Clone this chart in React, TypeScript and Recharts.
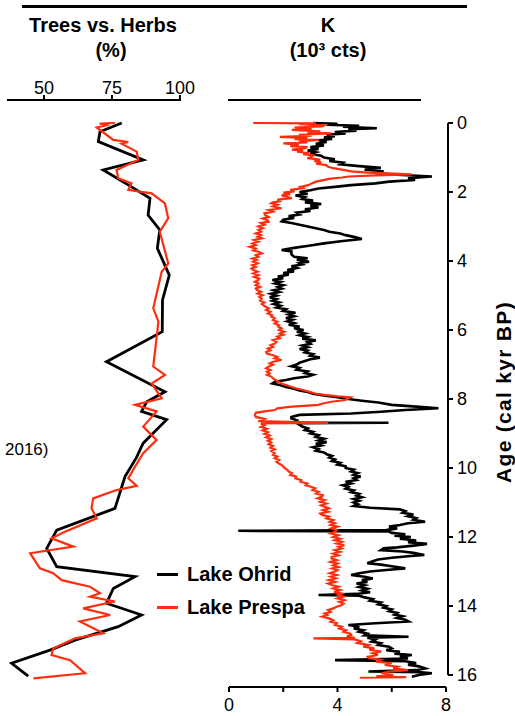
import React from "react";
import { Legend, Scatter, ScatterChart, XAxis, YAxis } from "recharts";

const W = 515;
const H = 716;
const FONT = '"Liberation Sans", Arial, Helvetica, sans-serif';
const RED = "#ff2d0d";
const BLACK = "#000";

// age axis (cal kyr BP), shared by both panels; plot area runs from y=100 to y=687
const AGE_DOMAIN: [number, number] = [-0.667, 16.348];
const AGE_TICKS = [0, 2, 4, 6, 8, 10, 12, 14, 16];

// Trees vs. Herbs (%) - [age, percent]
const treesOhrid: [number, number][] = [
  [0, 78.6], [0.25, 70.6], [0.54, 70.0], [1.07, 86.5], [1.36, 71.8], [1.85, 82.2],
  [2.18, 89.0], [2.67, 88.3], [3.1, 92.6], [3.63, 91.7], [4.41, 96.1], [5.13, 93.6],
  [6.05, 93.5], [6.92, 73.0], [7.79, 94.5], [8.08, 87.8], [8.36, 85.9], [8.6, 95.1],
  [9.28, 86.5], [9.7, 84.0], [10.25, 79.8], [11.17, 76.1], [11.8, 54.7], [12.33, 51.0],
  [12.86, 54.7], [13.15, 83.5], [13.49, 75.5], [13.92, 73.0], [14.26, 85.9], [14.6, 77.3],
  [14.99, 61.4], [15.28, 52.2], [15.66, 38.1], [16.03, 44.2],
];

const treesPrespa: [number, number][] = [
  [0, 76.1], [0.02, 70.5], [0.05, 74.0], [0.13, 69.4], [0.49, 75.5], [0.55, 81.0],
  [0.6, 78.5], [0.83, 84.1], [1.07, 84.7], [1.36, 76.7], [1.6, 77.3], [1.75, 82.2],
  [1.94, 81.0], [2.04, 89.6], [2.33, 94.5], [2.76, 95.7], [3.15, 92.6], [4.07, 95.7],
  [4.31, 93.3], [5.37, 90.2], [5.76, 92.1], [7.06, 90.2], [7.3, 94.5], [7.55, 89.6],
  [7.98, 93.3], [8.17, 83.5], [8.36, 91.4], [8.8, 86.5], [9.19, 91.4], [9.57, 86.5],
  [9.96, 83.5], [10.3, 81.0], [10.52, 84.1], [10.64, 76.7], [10.88, 68.1], [11.17, 67.5],
  [11.46, 69.4], [11.85, 57.7], [12.04, 52.8], [12.28, 60.8], [12.47, 44.9], [12.91, 48.5],
  [13.05, 53.4], [13.25, 56.5], [13.44, 66.9], [13.63, 70.6], [13.73, 66.9], [13.87, 76.1],
  [14.07, 64.4], [14.26, 74.3], [14.45, 63.2], [14.79, 71.8], [14.94, 61.4], [15.23, 53.4],
  [15.42, 52.8], [15.57, 59.6], [15.95, 65.1], [16.1, 46.1],
];

// K, Lake Ohrid (bottom axis, 0-8) - [age, value]
const kOhrid: [number, number][] = [
  [0, 3.1], [0.02, 4.0], [0.05, 3.6], [0.08, 4.8], [0.11, 4.2], [0.15, 5.45], [0.18, 4.4],
  [0.22, 4.7], [0.26, 3.9], [0.3, 4.3], [0.34, 3.6], [0.38, 3.9], [0.42, 3.5], [0.46, 3.8],
  [0.5, 3.3], [0.55, 3.6], [0.6, 3.2], [0.65, 3.5], [0.7, 3.0], [0.75, 3.3], [0.8, 2.9],
  [0.85, 3.2], [0.9, 3.0], [0.95, 3.4], [1.0, 3.5], [1.05, 3.9], [1.1, 3.7], [1.15, 4.2],
  [1.2, 4.1], [1.25, 4.8], [1.3, 5.6], [1.35, 5.0], [1.4, 5.7], [1.45, 5.4], [1.5, 6.2],
  [1.55, 7.48], [1.6, 6.6], [1.65, 6.86], [1.7, 5.9], [1.75, 5.4], [1.8, 4.5], [1.85, 3.9],
  [1.9, 3.3], [1.95, 3.0], [2.0, 2.6], [2.05, 2.9], [2.1, 2.45], [2.15, 2.8], [2.2, 2.7],
  [2.25, 3.1], [2.3, 2.8], [2.35, 3.4], [2.4, 3.0], [2.45, 3.3], [2.5, 2.8], [2.55, 3.0],
  [2.6, 2.5], [2.65, 2.6], [2.7, 2.2], [2.75, 2.4], [2.8, 2.0], [2.85, 1.94], [2.9, 2.3],
  [2.95, 2.6], [3.0, 2.9], [3.05, 3.2], [3.1, 3.5], [3.15, 3.7], [3.2, 4.1], [3.25, 4.3],
  [3.3, 4.6], [3.36, 4.9], [3.42, 4.2], [3.49, 3.5], [3.55, 3.0], [3.62, 2.4], [3.68, 1.94],
  [3.72, 2.3], [3.8, 2.3], [3.88, 2.4], [3.92, 2.9], [3.96, 2.5], [4.02, 2.95], [4.06, 2.6],
  [4.1, 2.7], [4.15, 2.3], [4.2, 2.5], [4.26, 2.15], [4.3, 2.4], [4.35, 2.0], [4.4, 2.2],
  [4.45, 1.8], [4.5, 2.0], [4.55, 1.6], [4.6, 1.9], [4.65, 1.7], [4.7, 2.0], [4.75, 1.8],
  [4.8, 1.95], [4.85, 1.65], [4.9, 1.85], [4.95, 1.55], [5.0, 1.75], [5.05, 1.5], [5.1, 1.75],
  [5.15, 1.6], [5.2, 1.85], [5.25, 1.65], [5.3, 1.9], [5.35, 1.75], [5.4, 2.1], [5.45, 2.0],
  [5.5, 2.45], [5.55, 2.2], [5.6, 2.4], [5.65, 2.1], [5.7, 2.35], [5.75, 2.15], [5.8, 2.4],
  [5.85, 2.2], [5.9, 2.6], [5.95, 2.4], [6.0, 2.75], [6.05, 2.5], [6.1, 2.8], [6.15, 2.6],
  [6.2, 2.9], [6.25, 2.7], [6.3, 3.2], [6.35, 2.9], [6.4, 3.0], [6.45, 2.7], [6.5, 2.9],
  [6.55, 2.6], [6.6, 2.9], [6.65, 2.8], [6.7, 3.1], [6.75, 3.0], [6.8, 3.35], [6.85, 3.0],
  [6.9, 2.8], [6.95, 2.6], [7.0, 2.5], [7.05, 2.3], [7.1, 2.6], [7.15, 2.5], [7.2, 2.9],
  [7.25, 2.8], [7.3, 3.1], [7.35, 2.9], [7.4, 2.4], [7.45, 2.1], [7.5, 1.7], [7.55, 1.6],
  [7.6, 1.9], [7.65, 2.1], [7.7, 2.4], [7.75, 2.6], [7.8, 2.9], [7.85, 3.1], [7.9, 3.5],
  [7.95, 4.0], [8.0, 4.4], [8.05, 4.9], [8.1, 5.5], [8.17, 6.0], [8.22, 6.9], [8.27, 7.72],
  [8.32, 6.5], [8.37, 5.6], [8.42, 4.5], [8.46, 2.6], [8.52, 2.3], [8.56, 2.3], [8.62, 2.5],
  [8.68, 2.4], [8.69, 5.88], [8.7, 2.5], [8.75, 2.6], [8.8, 2.7], [8.85, 2.9], [8.9, 2.8],
  [8.95, 3.1], [9.0, 3.0], [9.05, 3.3], [9.1, 3.2], [9.15, 3.5], [9.2, 3.3], [9.25, 3.6],
  [9.3, 3.2], [9.35, 3.4], [9.4, 3.1], [9.45, 3.3], [9.5, 3.2], [9.55, 3.5], [9.6, 3.6],
  [9.65, 3.8], [9.7, 3.7], [9.75, 3.9], [9.8, 3.8], [9.85, 4.1], [9.9, 4.0], [9.95, 4.3],
  [10.0, 4.3], [10.05, 4.6], [10.1, 4.5], [10.15, 4.75], [10.2, 4.6], [10.25, 4.85],
  [10.3, 4.6], [10.35, 4.7], [10.4, 4.3], [10.45, 4.5], [10.5, 4.2], [10.55, 4.4],
  [10.6, 4.3], [10.65, 4.6], [10.7, 4.5], [10.75, 4.8], [10.8, 4.7], [10.85, 4.9],
  [10.9, 4.6], [10.95, 4.8], [11.0, 4.6], [11.05, 4.75], [11.1, 4.6], [11.15, 5.2],
  [11.2, 6.3], [11.25, 6.5], [11.3, 6.4], [11.35, 6.8], [11.4, 6.6], [11.45, 6.9],
  [11.5, 6.8], [11.56, 7.23], [11.6, 6.6], [11.65, 6.3], [11.7, 5.9], [11.75, 6.2],
  [11.8, 5.8], [11.82, 0.34], [11.84, 5.9], [11.88, 6.0], [11.92, 6.5], [11.96, 6.1],
  [12.0, 6.7], [12.05, 6.3], [12.1, 6.9], [12.15, 6.6], [12.2, 7.3], [12.25, 6.8],
  [12.3, 6.2], [12.33, 5.7], [12.38, 5.6], [12.42, 6.4], [12.46, 6.8], [12.52, 7.2],
  [12.56, 6.6], [12.6, 6.0], [12.65, 5.5], [12.7, 5.3], [12.76, 5.1], [12.8, 5.6],
  [12.85, 6.0], [12.91, 6.5], [12.95, 5.9], [13.0, 5.2], [13.05, 4.8], [13.1, 4.5],
  [13.15, 5.0], [13.2, 5.3], [13.25, 4.9], [13.3, 5.1], [13.35, 4.7], [13.4, 5.0],
  [13.45, 4.8], [13.5, 5.1], [13.55, 4.9], [13.6, 5.2], [13.65, 4.7], [13.68, 3.3],
  [13.7, 4.8], [13.75, 5.0], [13.8, 5.3], [13.85, 5.2], [13.9, 5.6], [13.95, 5.5],
  [14.0, 5.8], [14.05, 5.7], [14.1, 6.0], [14.15, 5.9], [14.2, 6.2], [14.25, 6.1],
  [14.3, 6.4], [14.35, 6.2], [14.4, 6.5], [14.45, 6.62], [14.5, 5.4], [14.55, 4.4],
  [14.6, 4.8], [14.65, 4.6], [14.7, 4.95], [14.75, 4.8], [14.8, 5.1], [14.85, 5.0],
  [14.89, 6.62], [14.92, 5.1], [14.97, 5.4], [15.03, 5.26], [15.08, 5.6], [15.13, 5.5],
  [15.18, 5.9], [15.23, 6.0], [15.28, 5.8], [15.33, 6.3], [15.38, 6.1], [15.42, 6.74],
  [15.47, 6.3], [15.52, 6.6], [15.57, 3.91], [15.6, 6.5], [15.65, 6.9], [15.7, 6.6],
  [15.75, 7.0], [15.81, 7.23], [15.86, 6.9], [15.9, 5.14], [15.92, 7.1], [15.95, 7.48],
  [16.0, 7.0], [16.05, 6.74],
];

// K, Lake Prespa (top axis, 10^3 cts) - [age, value]
const kPrespa: [number, number][] = [
  [0, 0.27], [0.01, 1.0], [0.03, 0.8], [0.06, 1.1], [0.1, 1.07], [0.13, 0.75], [0.17, 0.95],
  [0.2, 0.72], [0.24, 1.05], [0.27, 0.9], [0.3, 1.18], [0.34, 0.8], [0.37, 0.95], [0.4, 0.58],
  [0.44, 0.9], [0.47, 0.75], [0.49, 1.03], [0.53, 0.8], [0.56, 0.9], [0.59, 0.62], [0.63, 0.8],
  [0.67, 0.7], [0.7, 0.9], [0.73, 0.87], [0.77, 0.72], [0.8, 0.85], [0.83, 0.78], [0.87, 0.92],
  [0.9, 0.85], [0.94, 0.97], [0.98, 0.95], [1.02, 0.9], [1.06, 1.05], [1.1, 0.98], [1.14, 1.06],
  [1.18, 1.0], [1.22, 1.12], [1.27, 1.14], [1.31, 1.2], [1.35, 1.3], [1.4, 1.41], [1.44, 1.6],
  [1.47, 1.9], [1.49, 2.11], [1.52, 1.7], [1.55, 1.38], [1.58, 1.3], [1.62, 1.15], [1.65, 1.1],
  [1.7, 1.0], [1.75, 0.95], [1.8, 0.91], [1.85, 0.82], [1.89, 0.85], [1.94, 0.7], [1.98, 0.75],
  [2.02, 0.62], [2.06, 0.7], [2.1, 0.6], [2.14, 0.66], [2.18, 0.72], [2.22, 0.55], [2.26, 0.6],
  [2.3, 0.5], [2.33, 0.48], [2.37, 0.55], [2.42, 0.5], [2.47, 0.6], [2.52, 0.45], [2.57, 0.5],
  [2.62, 0.4], [2.67, 0.41], [2.72, 0.45], [2.77, 0.38], [2.82, 0.44], [2.86, 0.45], [2.9, 0.36],
  [2.95, 0.4], [3.0, 0.33], [3.05, 0.38], [3.1, 0.33], [3.15, 0.36], [3.2, 0.3], [3.25, 0.36],
  [3.3, 0.32], [3.34, 0.37], [3.39, 0.28], [3.44, 0.33], [3.49, 0.26], [3.54, 0.3], [3.59, 0.23],
  [3.64, 0.3], [3.69, 0.27], [3.74, 0.34], [3.78, 0.37], [3.83, 0.3], [3.88, 0.33], [3.93, 0.26],
  [3.97, 0.31], [4.02, 0.27], [4.07, 0.32], [4.12, 0.26], [4.17, 0.3], [4.22, 0.25], [4.26, 0.27],
  [4.31, 0.32], [4.36, 0.27], [4.41, 0.33], [4.46, 0.28], [4.51, 0.34], [4.55, 0.33], [4.6, 0.29],
  [4.65, 0.33], [4.7, 0.3], [4.75, 0.35], [4.8, 0.3], [4.84, 0.31], [4.89, 0.36], [4.94, 0.32],
  [4.99, 0.38], [5.04, 0.34], [5.1, 0.37], [5.15, 0.35], [5.2, 0.4], [5.25, 0.37], [5.32, 0.41],
  [5.37, 0.45], [5.42, 0.42], [5.47, 0.47], [5.52, 0.44], [5.57, 0.49], [5.61, 0.48], [5.66, 0.52],
  [5.71, 0.5], [5.76, 0.55], [5.81, 0.52], [5.86, 0.57], [5.9, 0.56], [5.95, 0.6], [6.0, 0.57],
  [6.05, 0.63], [6.1, 0.58], [6.14, 0.62], [6.19, 0.55], [6.24, 0.58], [6.29, 0.5], [6.34, 0.54],
  [6.39, 0.52], [6.44, 0.47], [6.49, 0.5], [6.54, 0.44], [6.59, 0.47], [6.64, 0.42], [6.68, 0.43],
  [6.73, 0.5], [6.78, 0.55], [6.82, 0.52], [6.87, 0.6], [6.92, 0.5], [6.97, 0.46], [7.01, 0.5],
  [7.06, 0.45], [7.11, 0.42], [7.16, 0.47], [7.21, 0.43], [7.26, 0.46], [7.3, 0.43], [7.35, 0.48],
  [7.4, 0.5], [7.45, 0.53], [7.5, 0.56], [7.55, 0.6], [7.6, 0.66], [7.65, 0.72], [7.69, 0.76],
  [7.74, 0.85], [7.79, 0.92], [7.84, 0.99], [7.88, 1.1], [7.92, 1.25], [7.95, 1.4], [8.0, 1.36],
  [8.03, 1.34], [8.08, 1.18], [8.13, 1.08], [8.17, 1.03], [8.22, 0.72], [8.27, 0.55], [8.32, 0.52],
  [8.36, 0.4], [8.4, 0.3], [8.46, 0.29], [8.52, 0.3], [8.58, 0.4], [8.64, 0.33], [8.69, 1.14],
  [8.71, 0.36], [8.76, 0.4], [8.81, 0.36], [8.86, 0.43], [8.91, 0.38], [8.96, 0.44], [9.01, 0.4],
  [9.06, 0.46], [9.11, 0.42], [9.16, 0.48], [9.21, 0.44], [9.26, 0.48], [9.31, 0.45], [9.36, 0.5],
  [9.41, 0.47], [9.46, 0.52], [9.51, 0.48], [9.57, 0.52], [9.62, 0.5], [9.67, 0.55], [9.72, 0.52],
  [9.77, 0.57], [9.82, 0.54], [9.86, 0.56], [9.91, 0.6], [9.96, 0.62], [10.01, 0.64], [10.06, 0.67],
  [10.1, 0.68], [10.15, 0.72], [10.2, 0.7], [10.25, 0.77], [10.3, 0.76], [10.35, 0.83], [10.4, 0.82],
  [10.45, 0.9], [10.5, 0.88], [10.55, 0.95], [10.59, 0.99], [10.64, 0.96], [10.69, 1.03], [10.74, 1.0],
  [10.79, 1.08], [10.83, 1.07], [10.88, 1.02], [10.93, 1.1], [10.98, 1.05], [11.03, 1.12], [11.08, 1.06],
  [11.12, 1.1], [11.17, 1.15], [11.22, 1.08], [11.27, 1.14], [11.32, 1.05], [11.36, 1.07], [11.41, 1.15],
  [11.46, 1.12], [11.51, 1.2], [11.56, 1.16], [11.6, 1.22], [11.65, 1.17], [11.7, 1.25], [11.75, 1.18],
  [11.8, 1.24], [11.85, 1.22], [11.9, 1.17], [11.95, 1.26], [12.0, 1.2], [12.05, 1.28], [12.09, 1.22],
  [12.14, 1.3], [12.19, 1.24], [12.24, 1.33], [12.28, 1.26], [12.33, 1.3], [12.38, 1.22], [12.43, 1.28],
  [12.48, 1.2], [12.53, 1.26], [12.58, 1.18], [12.62, 1.18], [12.67, 1.24], [12.72, 1.17], [12.77, 1.25],
  [12.82, 1.2], [12.87, 1.26], [12.91, 1.19], [12.96, 1.25], [13.0, 1.22], [13.05, 1.16], [13.1, 1.24],
  [13.15, 1.17], [13.2, 1.23], [13.25, 1.15], [13.3, 1.22], [13.35, 1.14], [13.39, 1.18], [13.44, 1.26],
  [13.49, 1.2], [13.54, 1.28], [13.59, 1.21], [13.64, 1.3], [13.68, 1.26], [13.73, 1.32], [13.78, 1.25],
  [13.83, 1.33], [13.88, 1.27], [13.93, 1.32], [13.97, 1.3], [14.02, 1.24], [14.07, 1.2], [14.12, 1.14],
  [14.17, 1.17], [14.22, 1.1], [14.26, 1.13], [14.31, 1.07], [14.36, 1.15], [14.41, 1.2], [14.46, 1.17],
  [14.5, 1.24], [14.55, 1.22], [14.6, 1.3], [14.65, 1.27], [14.7, 1.35], [14.75, 1.32], [14.8, 1.4],
  [14.84, 1.41], [14.88, 1.36], [14.92, 1.45], [14.94, 0.97], [14.97, 1.45], [15.02, 1.52],
  [15.07, 1.48], [15.13, 1.61], [15.18, 1.55], [15.23, 1.68], [15.27, 1.62], [15.32, 1.76],
  [15.37, 1.66], [15.42, 1.72], [15.47, 1.6], [15.51, 1.61], [15.56, 1.75], [15.61, 1.7],
  [15.66, 1.88], [15.71, 1.8], [15.76, 1.95], [15.81, 1.9], [15.86, 2.07], [15.9, 1.85],
  [15.95, 1.76], [16.0, 1.9], [16.04, 1.7], [16.06, 2.05], [16.08, 1.51],
];

const toPts = (rows: [number, number][]) => rows.map(([age, v]) => ({ age, v }));

const SERIES_COLOR: Record<string, string> = { "Lake Ohrid": BLACK, "Lake Prespa": RED };

const NoDot = () => <g />;

const tickStyle = { fontFamily: FONT, fontSize: 18, fill: BLACK };
const axisStroke = { stroke: BLACK, strokeWidth: 2 };
const titleStyle: React.CSSProperties = {
  position: "absolute",
  width: 200,
  textAlign: "center",
  fontSize: 20,
  fontWeight: 700,
  lineHeight: "25px",
};

const LegendBox = (props: any) => {
  const payload = props.payload || [];
  return (
    <div style={{ fontFamily: FONT, fontWeight: 700, fontSize: 20, color: BLACK }}>
      {payload.map((p: any) => (
        <div key={p.value} style={{ display: "flex", alignItems: "center", height: 33 }}>
          <span
            style={{
              display: "inline-block",
              width: 21,
              height: 3,
              marginRight: 9,
              background: SERIES_COLOR[p.value] || p.color,
            }}
          />
          {p.value}
        </div>
      ))}
    </div>
  );
};

const AgeLabel = (props: any) => {
  const { x, y, height } = props.viewBox;
  const cx = x + 55;
  const cy = y + height / 2 - 7;
  return (
    <text
      x={cx}
      y={cy}
      transform={`rotate(-90, ${cx}, ${cy})`}
      textAnchor="middle"
      dominantBaseline="central"
      style={{ fontFamily: FONT, fontSize: 21, fontWeight: 700, letterSpacing: 1.3 }}
      fill={BLACK}
    >
      Age (cal kyr BP)
    </text>
  );
};

const layer: React.CSSProperties = { position: "absolute", left: 0, top: 0 };

function App() {
  const ohridPts = toPts(kOhrid);
  const prespaPts = toPts(kPrespa);
  return (
    <div style={{ position: "absolute", left: 0, top: 0, width: W, height: H, background: "#fff", fontFamily: FONT }}>
      <div style={{ position: "absolute", left: 22, top: 5, width: 445, height: 3, background: BLACK }} />
      <div style={{ ...titleStyle, left: 3, top: 13 }}>Trees vs. Herbs</div>
      <div style={{ ...titleStyle, left: 11, top: 38 }}>(%)</div>
      <div style={{ ...titleStyle, left: 228, top: 13 }}>
        K
        <br />
        (10³ cts)
      </div>
      <div style={{ position: "absolute", left: 5, top: 441, fontSize: 17, lineHeight: "17px" }}>2016)</div>

      {/* left panel: Trees vs. Herbs */}
      <div style={layer}>
        <ScatterChart width={W} height={H} margin={{ top: 60, left: 7, right: W - 181, bottom: 29 }}>
          <XAxis
            xAxisId="pct"
            orientation="top"
            type="number"
            dataKey="v"
            domain={[36.4, 100.4]}
            ticks={[50, 75, 100]}
            height={40}
            tickSize={5}
            tickMargin={1}
            axisLine={axisStroke}
            tickLine={axisStroke}
            tick={tickStyle}
          />
          <YAxis yAxisId="age" type="number" dataKey="age" domain={AGE_DOMAIN} reversed hide />
          <Scatter
            xAxisId="pct"
            yAxisId="age"
            name="Trees Ohrid"
            data={toPts(treesOhrid)}
            fill={BLACK}
            line={{ stroke: BLACK, strokeWidth: 2.8 }}
            shape={NoDot}
            isAnimationActive={false}
          />
          <Scatter
            xAxisId="pct"
            yAxisId="age"
            name="Trees Prespa"
            data={toPts(treesPrespa)}
            fill={RED}
            line={{ stroke: RED, strokeWidth: 2.2 }}
            shape={NoDot}
            isAnimationActive={false}
          />
        </ScatterChart>
      </div>

      {/* right panel: K data + bottom axis */}
      <div style={layer}>
        <ScatterChart width={W} height={H} margin={{ top: 100, left: 229, right: W - 446, bottom: 0 }}>
          <XAxis
            xAxisId="ohrid"
            orientation="bottom"
            type="number"
            dataKey="v"
            domain={[0, 8]}
            ticks={[0, 2, 4, 6, 8]}
            tickFormatter={(t: number) => (t % 4 === 0 ? String(t) : "")}
            height={29}
            tickSize={5}
            tickMargin={6}
            axisLine={axisStroke}
            tickLine={axisStroke}
            tick={tickStyle}
          />
          <XAxis xAxisId="prespa" orientation="top" type="number" dataKey="v" domain={[-0.01163, 2.5116]} hide />
          <YAxis yAxisId="age" type="number" dataKey="age" domain={AGE_DOMAIN} reversed hide />
          <Scatter
            xAxisId="ohrid"
            yAxisId="age"
            name="Lake Ohrid"
            data={ohridPts}
            fill={BLACK}
            line={{ stroke: BLACK, strokeWidth: 2.6, strokeLinejoin: "miter" }}
            shape={NoDot}
            legendType="plainline"
            isAnimationActive={false}
          />
          <Scatter
            xAxisId="prespa"
            yAxisId="age"
            name="Lake Prespa"
            data={prespaPts}
            fill={RED}
            line={{ stroke: RED, strokeWidth: 2.2, strokeLinejoin: "miter" }}
            shape={NoDot}
            legendType="plainline"
            isAnimationActive={false}
          />
          <Legend
            layout="vertical"
            align="center"
            verticalAlign="middle"
            content={LegendBox}
            wrapperStyle={{ left: 157, top: 558, width: "auto", height: "auto" }}
          />
        </ScatterChart>
      </div>

      {/* top K axis (red labels) */}
      <div style={layer}>
        <ScatterChart width={W} height={H} margin={{ top: 60, left: 228, right: W - 421, bottom: 500 }}>
          <XAxis
            xAxisId="k"
            orientation="top"
            type="number"
            dataKey="v"
            domain={[-0.02326, 2.2209]}
            ticks={[0, 1, 2]}
            height={40}
            tickSize={5}
            tickMargin={6}
            axisLine={axisStroke}
            tickLine={axisStroke}
            tick={{ ...tickStyle, fill: RED }}
          />
          <YAxis yAxisId="age" type="number" dataKey="age" domain={AGE_DOMAIN} reversed hide />
        </ScatterChart>
      </div>

      {/* age axis on the right */}
      <div style={layer}>
        <ScatterChart width={W} height={H} margin={{ top: 123, left: 440, right: 0, bottom: H - 675 }}>
          <XAxis xAxisId="none" type="number" dataKey="v" domain={[0, 8]} hide />
          <YAxis
            yAxisId="ageAxis"
            orientation="right"
            type="number"
            dataKey="age"
            domain={[0, 16]}
            ticks={AGE_TICKS}
            interval={0}
            allowDataOverflow
            reversed
            width={W - 448}
            tickSize={5}
            tickMargin={4}
            axisLine={axisStroke}
            tickLine={axisStroke}
            tick={tickStyle}
            label={<AgeLabel />}
          />
          <Scatter
            xAxisId="none"
            yAxisId="ageAxis"
            name="age"
            data={ohridPts}
            shape={NoDot}
            legendType="none"
            isAnimationActive={false}
          />
        </ScatterChart>
      </div>
    </div>
  );
}

export default App;
